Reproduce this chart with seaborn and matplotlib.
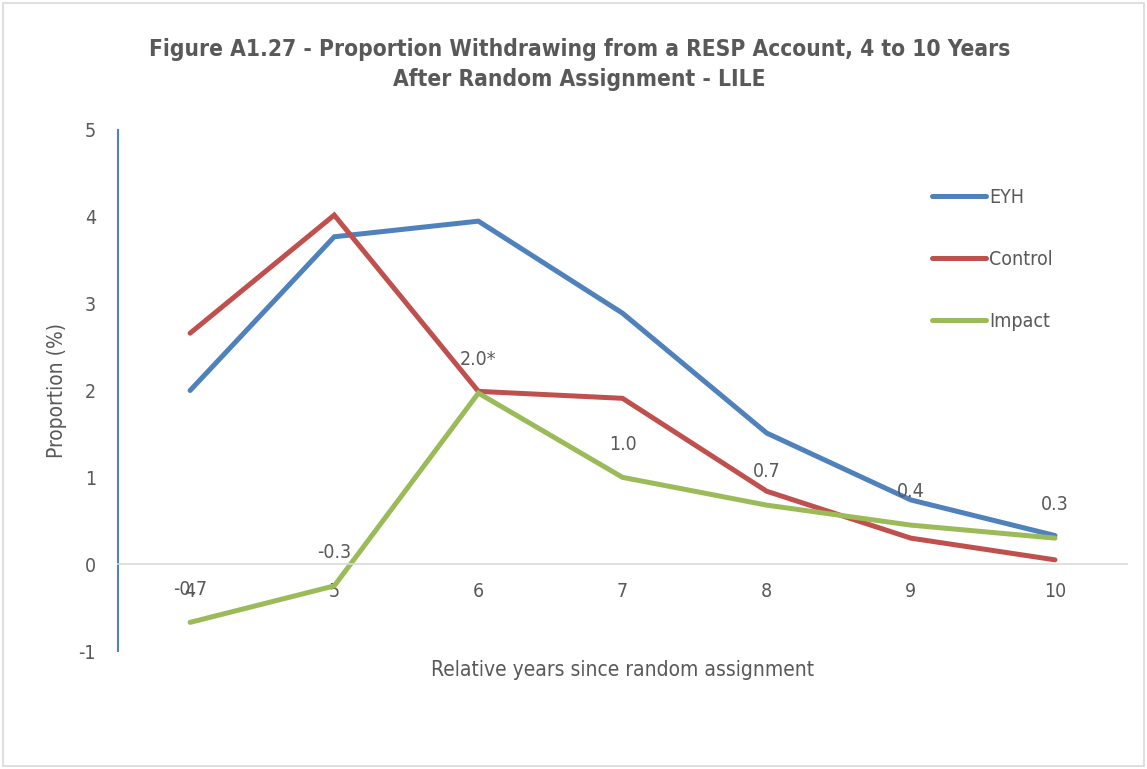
import seaborn as sns
import matplotlib.pyplot as plt
import matplotlib.patches as mpatches
import pandas as pd

# data
years = [4, 5, 6, 7, 8, 9, 10]
eyh = [2.0, 3.77, 3.95, 2.89, 1.51, 0.74, 0.33]
control = [2.66, 4.02, 1.99, 1.91, 0.84, 0.30, 0.05]
impact = [-0.67, -0.25, 1.97, 1.0, 0.68, 0.45, 0.30]
impact_labels = ["-0.7", "-0.3", "2.0*", "1.0", "0.7", "0.4", "0.3"]
series = ["EYH", "Control", "Impact"]
colors = ["#4F81BD", "#C0504D", "#9BBB59"]

df = pd.DataFrame({
    "year": years * 3,
    "value": eyh + control + impact,
    "series": [s for s in series for _ in years],
})

sns.set_style("white")
plt.rcParams["font.family"] = ["DejaVu Sans"]
plt.rcParams["font.stretch"] = "condensed"
plt.rcParams["axes.unicode_minus"] = False
txt = "#595959"

fig = plt.figure(figsize=(11.47, 7.69), dpi=100)
ax = fig.add_axes([0.1029, 0.1534, 0.8797, 0.6776])

sns.lineplot(data=df, x="year", y="value", hue="series", palette=colors,
             hue_order=series, linewidth=3.6, sort=False, ax=ax,
             solid_capstyle="round", solid_joinstyle="miter")

# data labels on Impact
for x, y, lab in zip(years, impact, impact_labels):
    ax.annotate(lab, (x, y), xytext=(0, 24), textcoords="offset points",
                ha="center", va="center", fontsize=14, color=txt)

ax.set_xlim(3.5, 10.5)
ax.set_ylim(-1, 5)
ax.set_xticks(years)
ax.set_yticks(range(-1, 6))

for s in ["top", "right"]:
    ax.spines[s].set_visible(False)
ax.spines["left"].set_color("#4F81BD")
ax.spines["left"].set_linewidth(1.5)
ax.spines["bottom"].set_position(("data", 0))
ax.spines["bottom"].set_color("#D9D9D9")
ax.spines["bottom"].set_linewidth(1.2)
ax.tick_params(axis="x", length=0, pad=13, labelsize=14, labelcolor=txt)
ax.tick_params(axis="y", length=0, pad=16, labelsize=14, labelcolor=txt)

ax.set_xlabel("")
ax.set_ylabel("Proportion (%)", fontsize=15, color=txt, labelpad=8)
fig.text(0.543, 0.129, "Relative years since random assignment",
         ha="center", va="center", fontsize=15, color=txt)

fig.suptitle("Figure A1.27 - Proportion Withdrawing from a RESP Account, 4 to 10 Years\n"
             "After Random Assignment - LILE",
             x=0.505, y=0.951, fontsize=16.3, fontweight="bold", color=txt,
             linespacing=1.42)

leg = ax.legend(loc="upper left", bbox_to_anchor=(0.799, 0.903), frameon=False,
                fontsize=14, labelspacing=2.2, handlelength=2.8,
                handletextpad=0.15, borderaxespad=0)
for t in leg.get_texts():
    t.set_color(txt)
for h in leg.get_lines():
    h.set_linewidth(3.6)
    h.set_solid_capstyle("round")

fig.add_artist(mpatches.Rectangle((0.003, 0.004), 0.994, 0.992,
                                  transform=fig.transFigure, fill=False,
                                  edgecolor="#D9D9D9", linewidth=1.2))

fig.savefig("out.png", dpi=100)
